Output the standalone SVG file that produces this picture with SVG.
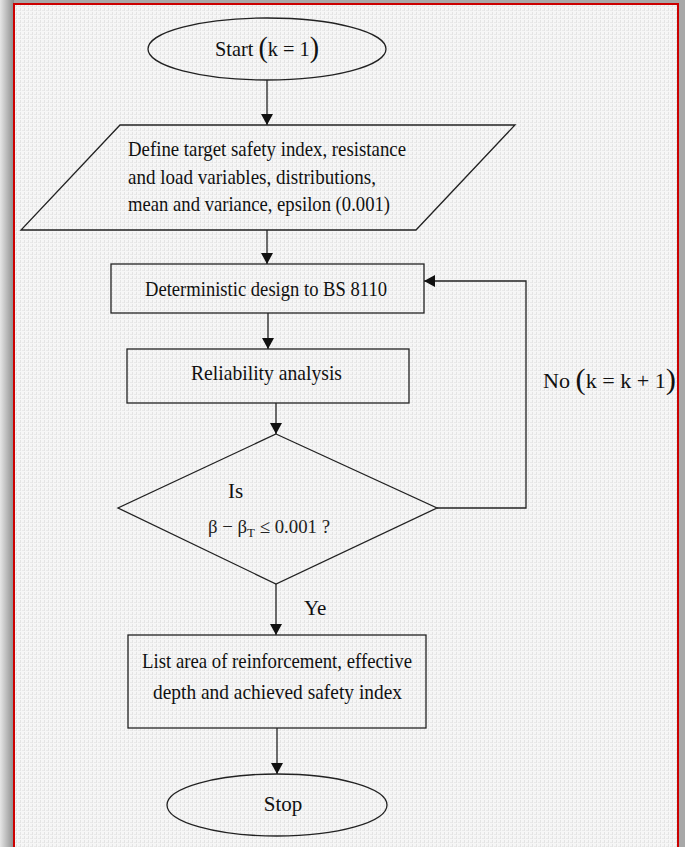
<svg xmlns="http://www.w3.org/2000/svg" width="685" height="847" viewBox="0 0 685 847">
<defs>
<linearGradient id="lg" x1="0" x2="1" y1="0" y2="0">
<stop offset="0" stop-color="#e6e6e6"/><stop offset="1" stop-color="#8c8c8c"/>
</linearGradient>
<pattern id="tex" width="4" height="4" patternUnits="userSpaceOnUse">
<rect width="4" height="4" fill="#f6f6f6"/>
<rect x="0" y="0" width="1" height="3" fill="#e4e4e4"/>
<rect x="2" y="2" width="2" height="1" fill="#e9e9e9"/>
</pattern>
<marker id="ah" viewBox="0 0 10 10" refX="10" refY="5" markerWidth="11" markerHeight="12" markerUnits="userSpaceOnUse" orient="auto" preserveAspectRatio="none">
<path d="M0,0 L10,5 L0,10 z" fill="#111"/>
</marker>
<style>
.s{fill:none;stroke:#222;stroke-width:1.3}
.c{fill:none;stroke:#222;stroke-width:1.3;marker-end:url(#ah)}
.t{font-family:"Liberation Serif","DejaVu Serif",serif;font-size:21px;fill:#111}
.m{font-family:"Liberation Serif","DejaVu Serif",serif;font-size:19px;fill:#222}
</style>
</defs>
<rect width="685" height="847" fill="#a8a8a8"/>
<rect x="0" y="0" width="14" height="847" fill="url(#lg)"/>
<rect x="14" y="4" width="664" height="860" fill="url(#tex)" stroke="#cc0000" stroke-width="2"/>

<g id="connectors">
<path class="c" d="M267,80 V125"/>
<path class="c" d="M267,230 V264"/>
<path class="c" d="M268,313 V349"/>
<path class="c" d="M276,403 V434"/>
<path class="c" d="M276,584 V635"/>
<path class="c" d="M277,728 V774"/>
<path class="c" d="M437,508 H526 V281 H424"/>
<text class="t" x="543" y="388" textLength="133" lengthAdjust="spacingAndGlyphs">No <tspan font-size="29" dy="1">(</tspan><tspan dy="-1">k = k + 1</tspan><tspan font-size="29" dy="1">)</tspan></text>
<text class="t" x="304" y="615">Ye</text>
</g>

<g id="start">
<ellipse class="s" cx="267" cy="49" rx="119" ry="31"/>
<text class="t" x="215" y="56" textLength="104" lengthAdjust="spacingAndGlyphs">Start <tspan font-size="29" dy="1">(</tspan><tspan dy="-1">k = 1</tspan><tspan font-size="29" dy="1">)</tspan></text>
</g>

<g id="define">
<polygon class="s" points="120,125 515,125 416,230 21,230"/>
<text class="t" x="128" y="156" textLength="278" lengthAdjust="spacingAndGlyphs">Define target safety index, resistance</text>
<text class="t" x="128" y="184" textLength="248" lengthAdjust="spacingAndGlyphs">and load variables, distributions,</text>
<text class="t" x="128" y="211" textLength="262" lengthAdjust="spacingAndGlyphs">mean and variance, epsilon (0.001)</text>
</g>

<g id="design">
<rect class="s" x="111" y="264" width="313" height="49"/>
<text class="t" x="145" y="296" textLength="242" lengthAdjust="spacingAndGlyphs">Deterministic design to BS 8110</text>
</g>

<g id="reliability">
<rect class="s" x="127" y="349" width="282" height="54"/>
<text class="t" x="191" y="380" textLength="151" lengthAdjust="spacingAndGlyphs">Reliability analysis</text>
</g>

<g id="decision">
<polygon class="s" points="276,434 437,508 276,584 118,508"/>
<text class="t" x="228" y="498">Is</text>
<text class="m" x="208" y="533" textLength="122" lengthAdjust="spacingAndGlyphs">β − β<tspan font-size="13" dy="4">T</tspan><tspan dy="-4"> ≤ 0.001 ?</tspan></text>
</g>

<g id="list">
<rect class="s" x="128" y="635" width="298" height="93"/>
<text class="t" x="142" y="668" textLength="270" lengthAdjust="spacingAndGlyphs">List area of reinforcement, effective</text>
<text class="t" x="153" y="699" textLength="249" lengthAdjust="spacingAndGlyphs">depth and achieved safety index</text>
</g>

<g id="stop">
<ellipse class="s" cx="277" cy="805" rx="110" ry="31"/>
<text class="t" x="283" y="811" text-anchor="middle">Stop</text>
</g>
</svg>
